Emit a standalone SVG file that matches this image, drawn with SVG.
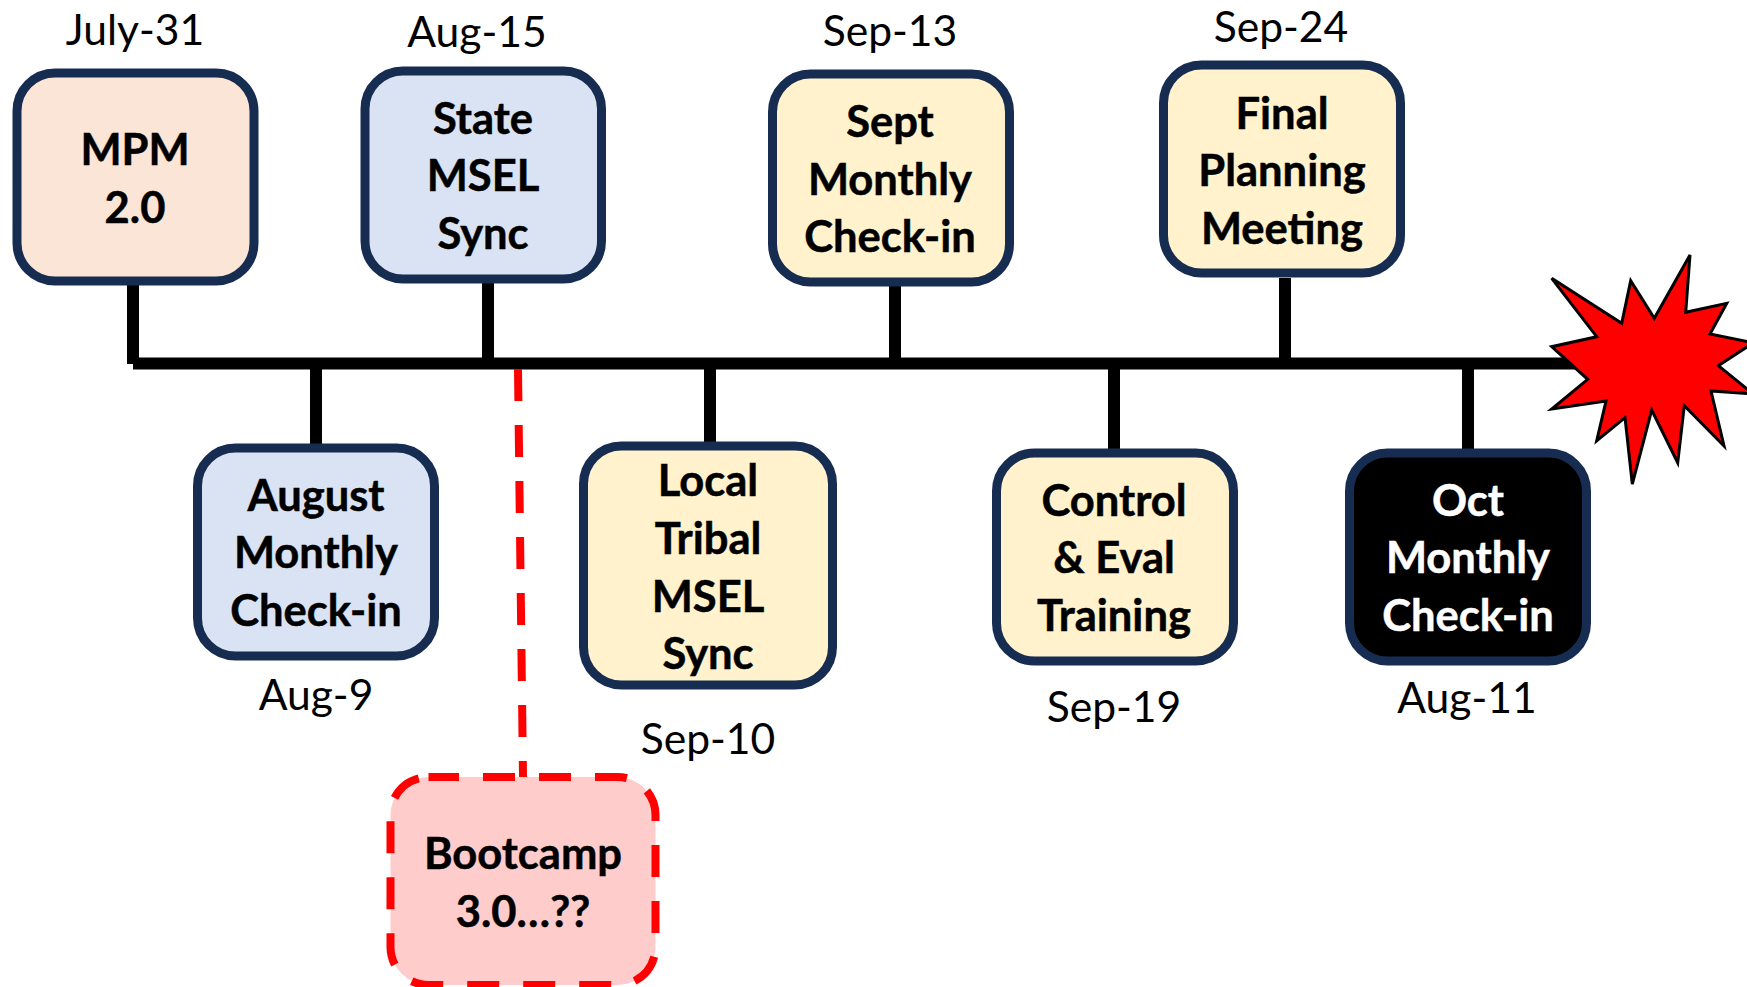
<svg xmlns="http://www.w3.org/2000/svg" width="1747" height="987" viewBox="0 0 1747 987">
<style>
text{font-family:"Lato","Open Sans","Liberation Sans",sans-serif;text-anchor:middle;fill:#000}
.t{font-weight:700;font-size:43.5px;stroke:#000;stroke-width:.5px}
.d{font-weight:400;font-size:42.6px}
.w{fill:#fff;stroke:#fff}
.b{stroke:#172C51;stroke-width:9}
.c{stroke:#000;stroke-width:12;fill:none}
</style>
<rect width="1747" height="987" fill="#fff"/>
<g id="connectors">
<path class="c" d="M133 363.500H1600M133 284V364M488 281V363M895 284V363M1285 278V363M316 363V445M710 363V445M1114 363V450M1468 363V450"/>
<path d="M518 369L523 777" fill="none" stroke="#f00" stroke-width="8" stroke-dasharray="32 24"/>
</g>
<g id="burst"><polygon points="1551.7,278.3 1621.7,323.3 1630.7,280.7 1654.3,318.3 1690,255 1685.7,312.3 1726.7,303.3 1710,334 1753.3,342.7 1718.3,365.7 1753.3,394 1711,391 1724,446 1684.3,405.7 1677.7,462.7 1651.7,410 1632.3,484 1625,417.7 1596.7,440.7 1606,401 1551.7,409 1587.7,379.3 1551.7,346.7 1596.7,336.7" fill="#f00" stroke="#000" stroke-width="3"/></g>
<g id="mpm"><rect class="b" x="17" y="73" width="237" height="208" rx="38" fill="#FBE5D6"/><text class="t" x="135" y="165">MPM</text><text class="t" x="135" y="223">2.0</text><text class="d" x="135" y="45">July-31</text></g>
<g id="state"><rect class="b" x="365" y="71" width="236.500" height="208" rx="38" fill="#DAE3F3"/><text class="t" x="483" y="134">State</text><text class="t" x="483" y="191">MSEL</text><text class="t" x="483" y="249">Sync</text><text class="d" x="477" y="47">Aug-15</text></g>
<g id="sept"><rect class="b" x="772.500" y="74" width="237" height="208" rx="38" fill="#FFF2CC"/><text class="t" x="890" y="137">Sept</text><text class="t" x="890" y="195">Monthly</text><text class="t" x="890" y="252">Check-in</text><text class="d" x="890" y="46">Sep-13</text></g>
<g id="final"><rect class="b" x="1163.500" y="65" width="237" height="208" rx="38" fill="#FFF2CC"/><text class="t" x="1282" y="129">Final</text><text class="t" x="1282" y="186">Planning</text><text class="t" x="1282" y="244">Meeting</text><text class="d" x="1281" y="42">Sep-24</text></g>
<g id="august"><rect class="b" x="197.500" y="448" width="237" height="208" rx="38" fill="#DAE3F3"/><text class="t" x="316" y="511">August</text><text class="t" x="316" y="568">Monthly</text><text class="t" x="316" y="626">Check-in</text><text class="d" x="316" y="710">Aug-9</text></g>
<g id="local"><rect class="b" x="583.500" y="446" width="249" height="239" rx="38" fill="#FFF2CC"/><text class="t" x="708" y="496">Local</text><text class="t" x="708" y="554">Tribal</text><text class="t" x="708" y="612">MSEL</text><text class="t" x="708" y="669">Sync</text><text class="d" x="708" y="754">Sep-10</text></g>
<g id="control"><rect class="b" x="996.500" y="453" width="237" height="208" rx="38" fill="#FFF2CC"/><text class="t" x="1114" y="516">Control</text><text class="t" x="1114" y="573">&amp; Eval</text><text class="t" x="1114" y="631">Training</text><text class="d" x="1114" y="722">Sep-19</text></g>
<g id="oct"><rect class="b" x="1349.500" y="453" width="237" height="208" rx="38" fill="#000"/><text class="t w" x="1468" y="516">Oct</text><text class="t w" x="1468" y="573">Monthly</text><text class="t w" x="1468" y="631">Check-in</text><text class="d" x="1467" y="713">Aug-11</text></g>
<g id="bootcamp"><rect x="390.500" y="777" width="265" height="208" rx="38" fill="#FFCCCC" stroke="#f00" stroke-width="8" stroke-dasharray="32 24" stroke-dashoffset="1.500"/><text class="t" x="523" y="869">Bootcamp</text><text class="t" x="523" y="927">3.0…??</text></g>
</svg>
